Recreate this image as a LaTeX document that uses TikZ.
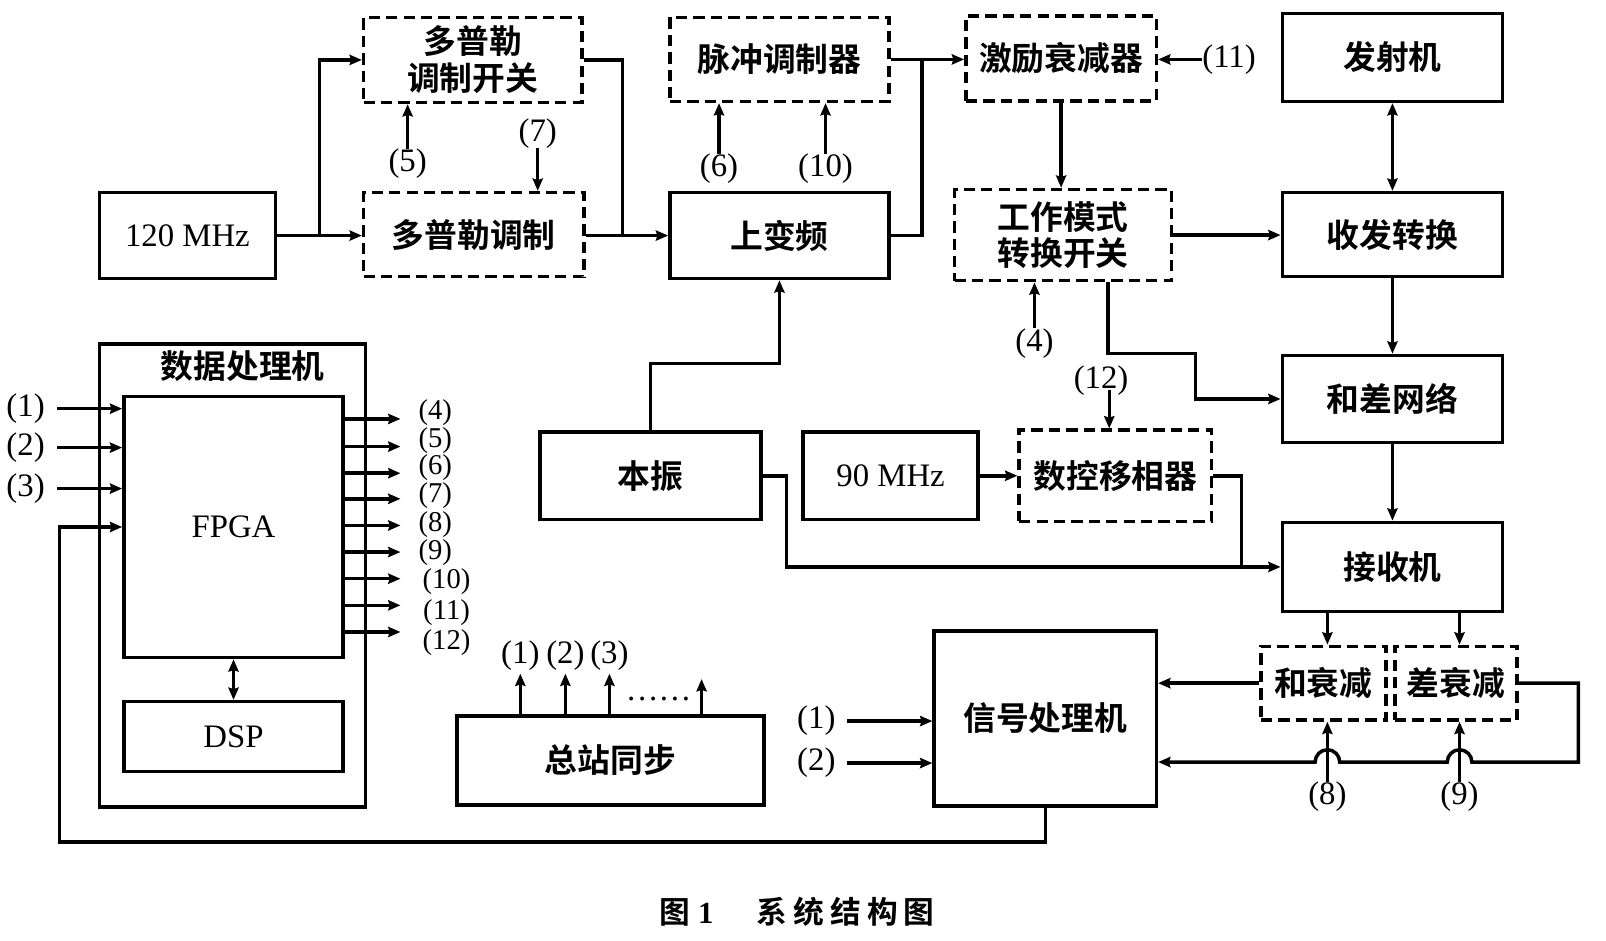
\documentclass[tikz,border=0pt]{standalone}
\usepackage{fontspec}
\setmainfont{Liberation Serif}
\newfontfamily\cjk[BoldFont={Noto Sans CJK SC Bold}]{Noto Sans CJK SC}
\usetikzlibrary{arrows.meta,calc}
\newcommand\myCJ{\cjk\bfseries\fontsize{32}{36}\selectfont}
\newcommand\myLat{\rmfamily\fontsize{32}{34}\selectfont}
\newcommand\mySmall{\rmfamily\fontsize{28}{28}\selectfont}
\newcommand\myCap{\cjk\bfseries\fontsize{30}{32}\selectfont}
\tikzset{
  box/.style={draw, line width=3.4pt, inner sep=0pt, align=center, font=\myCJ},
  dbox/.style={box, dash pattern=on 11pt off 6pt},
  wire/.style={line width=3.4pt},
  arr/.style={wire, -{Stealth[length=12pt,width=10pt,inset=1.5pt]}},
  arrtwo/.style={wire, {Stealth[length=12pt,width=10pt,inset=1.5pt]}-{Stealth[length=12pt,width=10pt,inset=1.5pt]}},
  lab/.style={font=\myLat, inner sep=0pt},
  slab/.style={font=\mySmall, inner sep=0pt},
}
\begin{document}
\begin{tikzpicture}[x=1pt,y=-1pt]
\useasboundingbox (0,0) rectangle (1568,918);

% ---- boxes ----
\node[box,minimum width=172,minimum height=84,font=\myLat] (f120) at (183,230) {120 MHz};
\node[dbox,minimum width=213,minimum height=83] (dsw) at (461.5,58.5) {多普勒\\调制开关};
\node[dbox,minimum width=215,minimum height=82] (dmod) at (462.5,229) {多普勒调制};
\node[dbox,minimum width=214,minimum height=82] (pulse) at (761,58) {脉冲调制器};
\node[box,minimum width=214,minimum height=84] (upc) at (761,230) {上变频};
\node[dbox,minimum width=186,minimum height=83] (exc) at (1036,57) {激励衰减器};
\node[dbox,minimum width=212,minimum height=89] (mode) at (1038,229.5) {工作模式\\转换开关};
\node[box,minimum width=215,minimum height=86] (tx) at (1359.5,56) {发射机};
\node[box,minimum width=215,minimum height=82] (trx) at (1359.5,229) {收发转换};
\node[box,minimum width=215,minimum height=85] (net) at (1359.5,389.5) {和差网络};
\node[box,minimum width=215,minimum height=87] (rx) at (1359.5,553.5) {接收机};
\node[dbox,minimum width=122,minimum height=72] (satt) at (1292,667) {和衰减};
\node[dbox,minimum width=119,minimum height=72] (datt) at (1421.5,667) {差衰减};
\node[box,minimum width=217,minimum height=171] (sp) at (1020.5,701.5) {信号处理机};
\node[box,minimum width=300,minimum height=87] (sync) at (596,742.5) {总站同步};
\node[box,minimum width=216,minimum height=85] (lo) at (635,464.5) {本振};
\node[box,minimum width=171,minimum height=85,font=\myLat] (f90) at (869.5,464.5) {90 MHz};
\node[dbox,minimum width=188,minimum height=89] (ps) at (1089,464.5) {数控移相器};
\node[box,minimum width=260,minimum height=452] (dp) at (227,562) {};
\node[font=\myCJ,inner sep=0pt] (dptxt) at (237,357) {数据处理机};
\node[box,minimum width=214,minimum height=255,font=\myLat] (fpga) at (228,514.5) {FPGA};
\node[box,minimum width=214,minimum height=68,font=\myLat] (dsp) at (228,719) {DSP};

% ---- labels ----
\node[lab] (l5) at (398,160) {(5)};
\node[lab] (l7) at (525,130) {(7)};
\node[lab] (l6) at (702,165) {(6)};
\node[lab] (l10) at (806,165) {(10)};
\node[lab] (l11) at (1200,58) {(11)};
\node[lab] (l4b) at (1010,335) {(4)};
\node[lab] (l12) at (1075,372) {(12)};
\node[lab] (l8) at (1296,778) {(8)};
\node[lab] (l9) at (1425,778) {(9)};
\node[lab] (s1) at (797,704) {(1)};
\node[lab] (s2) at (797,745) {(2)};
\node[lab] (q1) at (508,640) {(1)};
\node[lab] (q2) at (552,640) {(2)};
\node[lab] (q3) at (595,640) {(3)};
\node[lab] (qd) at (643,682) {……};
\node[lab] (i1) at (25,399) {(1)};
\node[lab] (i2) at (25,437) {(2)};
\node[lab] (i3) at (25,477) {(3)};
\node[slab] (o4) at (425,403) {(4)};
\node[slab] (o5) at (425,430) {(5)};
\node[slab] (o6) at (425,457) {(6)};
\node[slab] (o7) at (425,484) {(7)};
\node[slab] (o8) at (425,512) {(8)};
\node[slab] (o9) at (425,540) {(9)};
\node[slab] (o10) at (436,568) {(10)};
\node[slab] (o11) at (436,598) {(11)};
\node[slab] (o12) at (436,627) {(12)};
\node[font=\myCap,inner sep=0pt] (cap) at (778,890) {图\hspace{8pt}{\rmfamily\bfseries 1}\hspace{42pt}系\hspace{6pt}统\hspace{6pt}结\hspace{6pt}构\hspace{6pt}图};

% ---- coordinates ----
\coordinate (j1) at (312,230);
\coordinate (j2) at (608,230);
\coordinate (j3) at (900,58);
\coordinate (j4) at (1212,553.5);
\coordinate (h742) at (0,744);
\coordinate (fb) at (58,822);
\coordinate (q4) at (685,663);

% ---- connectors: top chain ----
\draw[arr] (f120.east) -- (dmod.west |- f120.east);
\draw[arr] (j1) |- (dsw.west);
\draw[wire] (dsw.east) -| (j2);
\draw[arr] (dmod.east |- j2) -- (upc.west);
\draw[arr] (l5.north) -- (l5.north |- dsw.south);
\draw[arr] (l7.south) -- (l7.south |- dmod.north);
\draw[arr] (l6.north) -- (l6.north |- pulse.south);
\draw[arr] (l10.north) -- (l10.north |- pulse.south);
\draw[arr] (pulse.east) -- (exc.west |- pulse.east);
\draw[wire] (upc.east) -| (j3);
\draw[arr] (l11.west) -- (exc.east |- l11.west);
\draw[arr] (exc.south) -- (exc.south |- mode.north);
\draw[arr] (mode.east) -- (trx.west |- mode.east);
\draw[arr] (l4b.north) -- (l4b.north |- mode.south);
\draw[arr] ([xshift=44pt]mode.south) -- (1082,345) -- (1167,345) |- (net.west);
\draw[arr] ([xshift=8pt,yshift=-9pt]l12.center) -- ([xshift=8pt]l12.center |- ps.north);
\draw[arr] (lo.north) |- (700,355) -| (upc.south);
\draw[arr] (lo.east) -| (768,500) |- (rx.west);
\draw[arr] (f90.east) -- (ps.west);
\draw[wire] (ps.east) -| (j4);

% ---- right column ----
\draw[arrtwo] (tx.south) -- (trx.north);
\draw[arr] (trx.south) -- (net.north);
\draw[arr] (net.south) -- (rx.north);
\draw[arr] ([xshift=4pt]satt.north |- rx.south) -- ([xshift=4pt]satt.north);
\draw[arr] ([xshift=3.5pt]datt.north |- rx.south) -- ([xshift=3.5pt]datt.north);
\draw[arr] (satt.west) -- (sp.east |- satt.west);
\draw[arr] (datt.east) -- (1541,667) -- (1541,744) -- (1437,744)
  arc[start angle=0,end angle=180,radius=12pt] -- (1308,744)
  arc[start angle=0,end angle=180,radius=12pt] -- (sp.east |- h742);
\draw[arr] (l8.north) -- (l8.north |- satt.south);
\draw[arr] (l9.north) -- (l9.north |- datt.south);

% ---- signal processor inputs ----
\draw[arr] ([xshift=11pt]s1.east) -- (sp.west |- s1.east);
\draw[arr] ([xshift=11pt]s2.east) -- (sp.west |- s2.east);

% ---- sync outputs ----
\draw[arr] (sync.north -| q1.south) -- ([yshift=-3pt]q1.south);
\draw[arr] (sync.north -| q2.south) -- ([yshift=-3pt]q2.south);
\draw[arr] (sync.north -| q3.south) -- ([yshift=-3pt]q3.south);
\draw[arr] (sync.north -| q4) -- (q4);

% ---- data processor ----
\draw[arr] ([xshift=12pt]i1.east) -- (fpga.west |- i1.east);
\draw[arr] ([xshift=12pt]i2.east) -- (fpga.west |- i2.east);
\draw[arr] ([xshift=12pt]i3.east) -- (fpga.west |- i3.east);
\draw[arr] (sp.south) |- (fb) |- (fpga.west);
\draw[arrtwo] (fpga.south) -- (dsp.north);
\foreach \yy/\nm in {409/o4,436/o5,462/o6,487/o7,513/o8,539/o9,565/o10,591/o11,617/o12}{
  \draw[arr] (fpga.east |- 0,\yy) -- (391,\yy);
}
\end{tikzpicture}
\end{document}
